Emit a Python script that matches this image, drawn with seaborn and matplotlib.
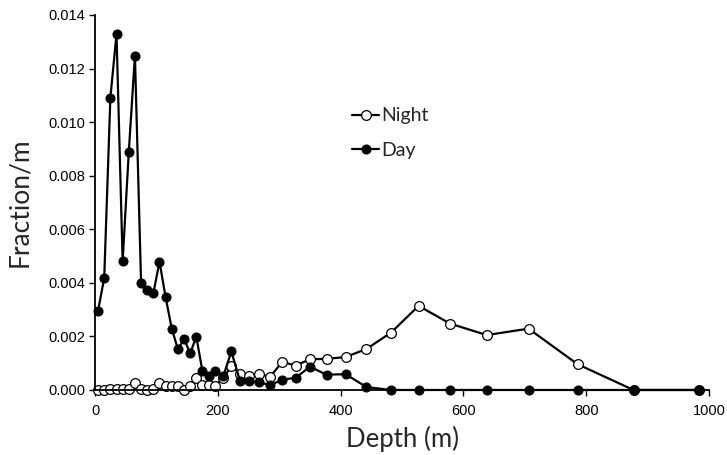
import numpy as np
import pandas as pd
import matplotlib
matplotlib.use('Agg')
import matplotlib.pyplot as plt
import seaborn as sns
from matplotlib.ticker import FormatStrFormatter

# depth bin centres (m)
depth = [5, 15, 25, 35, 45, 55, 65, 75, 85, 95,
         105, 115, 125, 135, 145, 155, 165, 175, 185, 195,
         209, 222, 236, 251, 267, 285, 305, 327, 350, 377,
         408, 442, 482, 527, 578, 638, 706, 786, 877, 983]

night = [0.0, 0.0, 0.00002, 0.00004, 0.00004, 0.00002, 0.00026, 0.00002, 0.00001, 0.00002,
         0.00025, 0.00016, 0.00016, 0.00016, 0.0, 0.00014, 0.00043, 0.00017, 0.00017, 0.00016,
         0.00044, 0.0009, 0.00061, 0.00052, 0.0006, 0.00049, 0.00105, 0.00091, 0.00115, 0.00116,
         0.00123, 0.00153, 0.00214, 0.00314, 0.00248, 0.00205, 0.00229, 0.00096, 0.0, 0.0]

day = [0.00296, 0.00419, 0.01091, 0.01329, 0.0048, 0.00889, 0.01248, 0.0040, 0.00372, 0.00361,
       0.00479, 0.00346, 0.00229, 0.00152, 0.0019, 0.00137, 0.00199, 0.00069, 0.00054, 0.00069,
       0.00052, 0.00144, 0.00035, 0.00032, 0.00029, 0.00018, 0.00038, 0.00046, 0.00087, 0.00057,
       0.00059, 0.00011, 0.0, 0.0, 0.0, 0.0, 0.0, 0.0, 0.0, 0.0]

df = pd.DataFrame({'Depth': depth, 'Night': night, 'Day': day})

sns.set_style('ticks')
plt.rcParams['font.family'] = ['Liberation Sans', 'DejaVu Sans']

fig = plt.figure(figsize=(7.27, 4.55), dpi=100)
ax = fig.add_axes([0.1307, 0.1429, 0.8446, 0.8242])

sns.lineplot(ax=ax, data=df, x='Depth', y='Night', color='black', lw=1.6,
             marker='o', markersize=7, markerfacecolor='white',
             markeredgecolor='black', markeredgewidth=0.9, clip_on=False, label='Night')
sns.lineplot(ax=ax, data=df, x='Depth', y='Day', color='black', lw=1.6,
             marker='o', markersize=6.5, markerfacecolor='black',
             markeredgecolor='black', clip_on=False, label='Day')

ax.set_xlim(0, 1000)
ax.set_ylim(0, 0.014)
ax.set_xticks(np.arange(0, 1001, 200))
ax.set_yticks(np.arange(0, 0.0141, 0.002))
ax.yaxis.set_major_formatter(FormatStrFormatter('%.3f'))
ax.tick_params(labelsize=10.5, length=4, width=1, direction='out', colors='black', pad=3)
ax.tick_params(axis='x', pad=6)
for s in ['left', 'bottom']:
    ax.spines[s].set_linewidth(1.3)
    ax.spines[s].set_color('black')
sns.despine(ax=ax)

ax.set_xlabel('Depth (m)', fontsize=18.5, family='Lato', labelpad=6)
ax.set_ylabel('Fraction/m', fontsize=19, family='Lato', labelpad=12)

leg = ax.legend(loc='upper left', bbox_to_anchor=(0.39, 0.8), frameon=False,
                prop={'family': 'Lato', 'size': 14}, handlelength=1.4,
                handletextpad=0.1, labelspacing=0.9)

fig.savefig('out.png', dpi=100)
